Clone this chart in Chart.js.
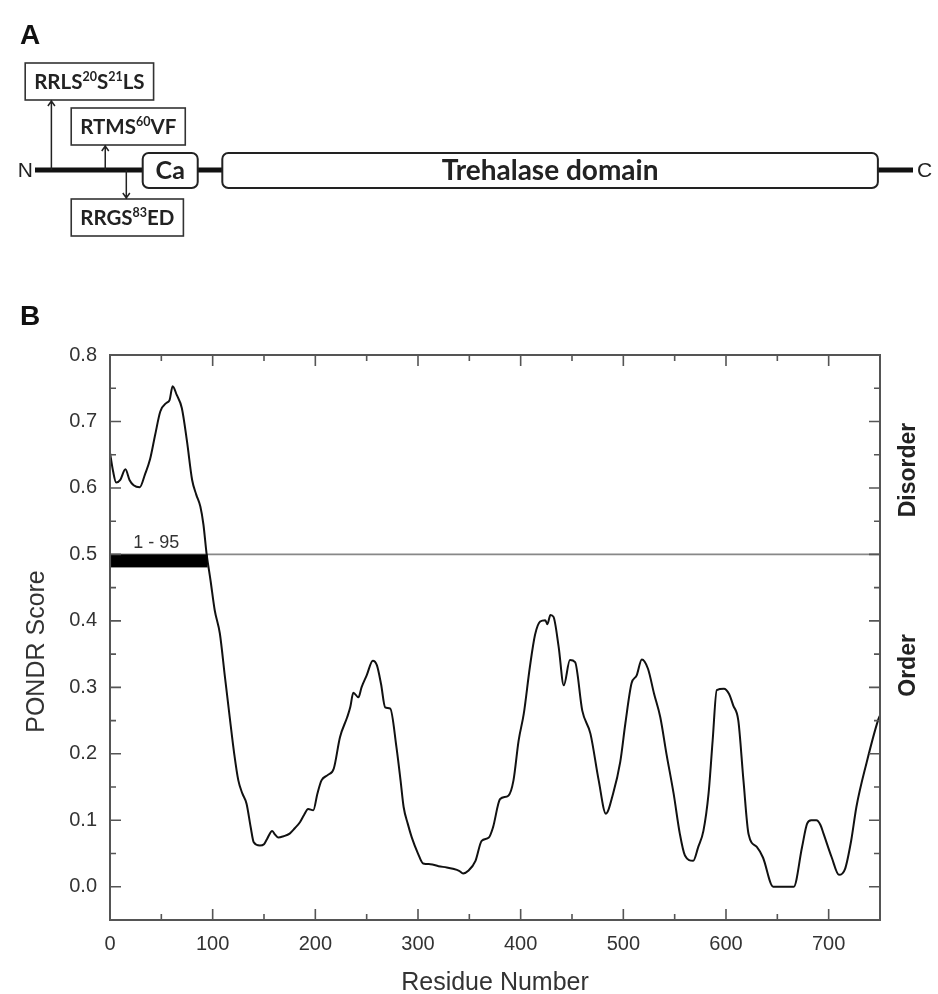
<!DOCTYPE html>
<html><head><meta charset="utf-8">
<script src="https://cdn.jsdelivr.net/npm/chart.js@4.4.1/dist/chart.umd.min.js"></script>
<style>
html,body{margin:0;padding:0;background:#fff;}
body{width:938px;height:994px;position:relative;overflow:hidden;}
#a{position:absolute;left:0;top:0;}
#b{position:absolute;left:0;top:280px;}
</style></head><body>
<canvas id="a" width="938" height="250"></canvas>
<canvas id="b" width="938" height="714"></canvas>
<script>
// ---------- Panel B data ----------
const residue = [0,3,6,10,15,19,23,29,34,39,44,49,55,58,61,65,70,75,80,84,88,91,94,98,102,107,112,117,121,125,129,133,137,140,146,150,153,158,161,164,169,175,180,185,189,193,198,202,206,212,218,224,231,234,237,242,245,250,256,260,264,268,273,279,283,286,290,294,300,305,312,320,328,334,340,344,349,356,362,369,373,380,388,393,398,403,409,414,419,424,426,429,432,437,442,448,453,460,468,476,483,490,497,502,508,513,518,524,530,536,542,549,555,560,568,573,578,583,587,591,598,603,607,612,617,622,630,636,646,666,674,679,683,688,692,695,703,710,716,722,727,737,748,750];
const score = [0.653,0.625,0.608,0.612,0.628,0.612,0.604,0.601,0.62,0.643,0.68,0.715,0.728,0.732,0.753,0.74,0.72,0.67,0.612,0.59,0.572,0.545,0.502,0.46,0.416,0.381,0.315,0.25,0.2,0.16,0.14,0.125,0.09,0.067,0.062,0.064,0.072,0.084,0.078,0.074,0.076,0.08,0.088,0.097,0.108,0.117,0.115,0.14,0.16,0.168,0.178,0.225,0.255,0.27,0.292,0.285,0.3,0.318,0.34,0.333,0.305,0.27,0.268,0.21,0.16,0.12,0.095,0.074,0.05,0.035,0.034,0.031,0.029,0.027,0.024,0.02,0.024,0.039,0.069,0.074,0.089,0.132,0.137,0.16,0.22,0.26,0.331,0.379,0.399,0.401,0.395,0.409,0.406,0.361,0.303,0.341,0.338,0.265,0.23,0.16,0.11,0.14,0.188,0.246,0.306,0.318,0.342,0.328,0.29,0.255,0.2,0.14,0.08,0.047,0.039,0.06,0.084,0.14,0.22,0.296,0.298,0.29,0.273,0.25,0.16,0.079,0.06,0.044,0.0,0.0,0.059,0.095,0.1,0.1,0.093,0.08,0.044,0.018,0.027,0.07,0.12,0.187,0.25,0.258];
const thresholdX = [0, 750];
const thresholdY = [0.5, 0.5];
const disorderedRegion = [1, 95];
const disorderedLabel = "1 - 95";
const xTickValues = [0,100,200,300,400,500,600,700];
const xTickLabels = ["0","100","200","300","400","500","600","700"];
const yTickValues = [0,0.1,0.2,0.3,0.4,0.5,0.6,0.7,0.8];
const yTickLabels = ["0.0","0.1","0.2","0.3","0.4","0.5","0.6","0.7","0.8"];
const xTitle = "Residue Number";
const yTitle = "PONDR Score";
const sideLabels = ["Disorder", "Order"];

// ---------- Panel A data (schematic positions in residue-like units) ----------
const proteinLength = 750;
const domainNames = ["Ca", "Trehalase domain"];
const domainStart = [92, 160];
const domainEnd = [139, 720];
const siteLabels = ["RRLS{20}S{21}LS", "RTMS{60}VF", "RRGS{83}ED"];
const sitePos = [14, 60, 78];
const siteSide = ["up", "up", "down"];

const SANS = "'Liberation Sans', Arial, sans-serif";
const CAL = "Lato, 'Open Sans', sans-serif";

function richParts(s){
  const out=[]; const re=/([^{]+)|\{([^}]*)\}/g; let m;
  while((m=re.exec(s))){ if(m[1]) out.push({t:m[1],sup:false}); else out.push({t:m[2],sup:true}); }
  return out;
}
function richWidth(ctx,s,base,sup){
  let w=0; for(const p of richParts(s)){ ctx.font=p.sup?sup:base; w+=ctx.measureText(p.t).width; } return w;
}
function drawRich(ctx,s,cx,cy,base,sup){
  const w=richWidth(ctx,s,base,sup); let x=cx-w/2;
  ctx.textAlign='left'; ctx.textBaseline='middle';
  for(const p of richParts(s)){ ctx.font=p.sup?sup:base; ctx.fillText(p.t,x,p.sup?cy-6:cy); x+=ctx.measureText(p.t).width; }
  return w;
}

const diagramPlugin = {
  id:'diagram',
  afterDraw(chart){
    const ctx=chart.ctx, xs=chart.scales.x;
    const X=v=>xs.getPixelForValue(v);
    const lineY=170;
    ctx.save();
    ctx.fillStyle='#111'; ctx.font="bold 28px "+SANS; ctx.textAlign='left'; ctx.textBaseline='alphabetic';
    ctx.fillText('A',20,44);
    ctx.strokeStyle='#111'; ctx.lineWidth=5; ctx.lineCap='butt';
    ctx.beginPath(); ctx.moveTo(X(0),lineY); ctx.lineTo(X(proteinLength),lineY); ctx.stroke();
    ctx.fillStyle='#222'; ctx.font="21px "+SANS; ctx.textBaseline='middle';
    ctx.textAlign='right'; ctx.fillText('N',X(0)-2,lineY+1);
    ctx.textAlign='left'; ctx.fillText('C',X(proteinLength)+4,lineY+1);
    domainNames.forEach((name,i)=>{
      const x0=X(domainStart[i]), x1=X(domainEnd[i]);
      const top=lineY-17, h=35;
      ctx.beginPath(); ctx.roundRect(x0,top,x1-x0,h,6);
      ctx.fillStyle='#fff'; ctx.fill();
      ctx.lineWidth=2; ctx.strokeStyle='#222'; ctx.stroke();
      ctx.fillStyle='#222'; ctx.font=(i===0?"bold 25px ":"bold 28px ")+CAL;
      ctx.textAlign='center'; ctx.textBaseline='middle';
      ctx.fillText(name,(x0+x1)/2,lineY+1);
    });
    const boxOffset=[38,23,1];
    const boxTop=[63,108,199];
    const boxH=37;
    siteLabels.forEach((lab,i)=>{
      const ax=X(sitePos[i]);
      const base="bold 20.5px "+CAL, sup="bold 12.5px "+CAL;
      const tw=richWidth(ctx,lab,base,sup);
      const bw=tw+18, cx=ax+boxOffset[i];
      const bt=boxTop[i];
      ctx.strokeStyle='#333'; ctx.lineWidth=1.6;
      ctx.strokeRect(cx-bw/2,bt,bw,boxH);
      ctx.fillStyle='#222';
      drawRich(ctx,lab,cx,bt+boxH/2+1,base,sup);
      ctx.strokeStyle='#222'; ctx.lineWidth=1.5;
      ctx.beginPath();
      if(siteSide[i]==='up'){
        const tip=bt+boxH;
        ctx.moveTo(ax,lineY); ctx.lineTo(ax,tip);
        ctx.moveTo(ax-3.5,tip+6); ctx.lineTo(ax,tip+1); ctx.lineTo(ax+3.5,tip+6);
      } else {
        const tip=bt;
        ctx.moveTo(ax,lineY); ctx.lineTo(ax,tip);
        ctx.moveTo(ax-3.5,tip-6); ctx.lineTo(ax,tip-1); ctx.lineTo(ax+3.5,tip-6);
      }
      ctx.stroke();
    });
    ctx.restore();
  }
};

new Chart(document.getElementById('a'),{
  type:'scatter',
  data:{datasets:[]},
  options:{
    responsive:false, animation:false, devicePixelRatio:1,
    layout:{padding:{left:35,right:25,top:0,bottom:0}},
    scales:{x:{type:'linear',min:0,max:proteinLength,display:false},y:{min:0,max:1,display:false}},
    plugins:{legend:{display:false},tooltip:{enabled:false}}
  },
  plugins:[diagramPlugin]
});

const framePlugin = {
  id:'frame',
  afterDatasetsDraw(chart){
    const ctx=chart.ctx, xs=chart.scales.x, ys=chart.scales.y;
    ctx.save();
    const bx0=xs.getPixelForValue(disorderedRegion[0]), bx1=xs.getPixelForValue(disorderedRegion[1]);
    const by=ys.getPixelForValue(thresholdY[0]);
    ctx.fillStyle='#000'; ctx.fillRect(bx0,by,bx1-bx0,13);
    ctx.fillStyle='#333'; ctx.font="18px "+SANS; ctx.textAlign='center'; ctx.textBaseline='middle';
    ctx.fillText(disorderedLabel,(bx0+bx1)/2-3,by-11);
    ctx.restore();
  },
  afterDraw(chart){
    const ctx=chart.ctx, xs=chart.scales.x, ys=chart.scales.y, a=chart.chartArea;
    ctx.save();
    ctx.strokeStyle='#555'; ctx.lineWidth=2;
    ctx.strokeRect(a.left,a.top,a.right-a.left,a.bottom-a.top);
    ctx.lineWidth=1.6;
    ctx.beginPath();
    for(let v=0; v<=xs.max; v+=50){
      const x=xs.getPixelForValue(v); const len=(v%100===0)?11:6;
      ctx.moveTo(x,a.bottom); ctx.lineTo(x,a.bottom-len);
      ctx.moveTo(x,a.top); ctx.lineTo(x,a.top+len);
    }
    for(let i=0;i<=16;i++){
      const y=ys.getPixelForValue(i*0.05); const len=(i%2===0)?11:6;
      ctx.moveTo(a.left,y); ctx.lineTo(a.left+len,y);
      ctx.moveTo(a.right,y); ctx.lineTo(a.right-len,y);
    }
    ctx.stroke();
    ctx.fillStyle='#333'; ctx.font="25px "+SANS; ctx.textAlign='center'; ctx.textBaseline='middle';
    ctx.fillText(xTitle,(a.left+a.right)/2,703);
    ctx.save(); ctx.translate(37,(a.top+a.bottom)/2+14); ctx.rotate(-Math.PI/2);
    ctx.fillText(yTitle,0,0); ctx.restore();
    ctx.fillStyle='#222'; ctx.font="bold 23px "+SANS;
    const sy=[ys.getPixelForValue(0.627), ys.getPixelForValue(0.333)];
    sideLabels.forEach((t,i)=>{
      ctx.save(); ctx.translate(a.right+29,sy[i]); ctx.rotate(-Math.PI/2); ctx.fillText(t,0,0); ctx.restore();
    });
    ctx.fillStyle='#111'; ctx.font="bold 28px "+SANS; ctx.textAlign='left'; ctx.textBaseline='alphabetic';
    ctx.fillText('B',20,45);
    ctx.restore();
  }
};

new Chart(document.getElementById('b'),{
  type:'scatter',
  data:{datasets:[
    {data:residue.map((x,i)=>({x:x,y:score[i]})), showLine:true, borderColor:'#111', borderWidth:2,
     pointRadius:0, cubicInterpolationMode:'monotone', fill:false, order:0},
    {data:thresholdX.map((x,i)=>({x:x,y:thresholdY[i]})), showLine:true, borderColor:'#888', borderWidth:1.6,
     pointRadius:0, fill:false, order:1}
  ]},
  options:{
    responsive:false, animation:false, devicePixelRatio:1,
    layout:{padding:{left:0,right:58,top:75,bottom:0}},
    scales:{
      x:{type:'linear',min:0,max:750,
         grid:{display:false,drawTicks:false}, border:{display:false},
         afterBuildTicks:s=>{s.ticks=xTickValues.map(v=>({value:v}));},
         afterFit:s=>{s.height=74;},
         ticks:{padding:12,color:'#333',font:{family:SANS,size:20},maxRotation:0,autoSkip:false,
                callback:(v,i)=>xTickLabels[i]}},
      y:{type:'linear',min:-0.05,max:0.8,
         grid:{display:false,drawTicks:false}, border:{display:false},
         afterBuildTicks:s=>{s.ticks=yTickValues.map(v=>({value:v}));},
         afterFit:s=>{s.width=110;},
         ticks:{padding:13,color:'#333',font:{family:SANS,size:20},autoSkip:false,
                callback:(v,i)=>yTickLabels[i]}}
    },
    plugins:{legend:{display:false},tooltip:{enabled:false}}
  },
  plugins:[framePlugin]
});
</script>
</body></html>
